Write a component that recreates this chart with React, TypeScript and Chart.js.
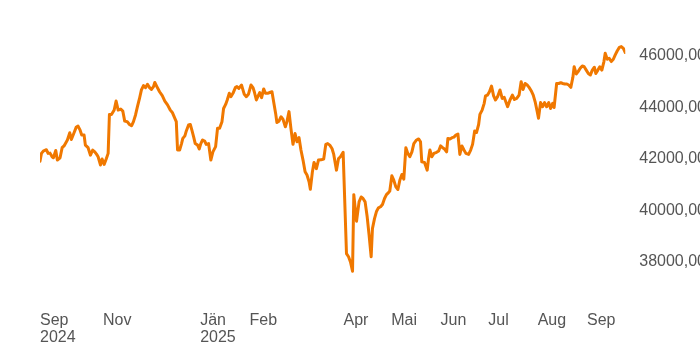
import React, { useEffect, useRef } from "react";
import { Chart, registerables } from "chart.js";

Chart.register(...registerables);

// days since 2024-09-01
const dayOffsets: number[] = [
  21.4, 22.3, 23.7, 25.4, 26.5, 27.7, 29.0, 29.8, 31.3, 32.3, 34.0, 35.3, 36.5, 38.6, 40.1, 41.1, 42.6, 44.1, 45.3, 46.6,
  47.6, 49.1, 49.9, 51.6, 53.1, 54.5, 55.8, 57.0, 57.9, 59.4, 60.4, 61.7, 63.1, 64.2, 65.0, 66.3, 68.0, 69.2, 70.5, 72.1,
  73.4, 74.6, 76.2, 77.6, 78.9, 80.1, 81.4, 82.6, 83.9, 85.1, 86.4, 87.7, 88.9, 90.2, 91.4, 92.7, 93.5, 94.8, 96.5, 98.2,
  99.8, 101.5, 103.2, 104.5, 106.1, 107.0, 107.8, 109.1, 110.3, 111.1, 112.4, 113.3, 114.7, 115.8, 116.8, 117.9, 118.9, 120.4, 121.4, 122.4,
  123.5, 124.8, 125.8, 127.3, 128.7, 130.0, 131.7, 132.9, 134.2, 135.7, 136.7, 138.0, 139.0, 140.3, 141.3, 142.6, 144.1, 145.1, 146.3, 148.0,
  149.7, 151.0, 152.3, 153.9, 155.2, 156.0, 157.3, 158.5, 159.4, 160.6, 161.9, 163.0, 164.4, 165.7, 167.1, 168.2, 169.4, 170.2, 171.5, 172.8,
  174.0, 175.5, 176.5, 177.8, 179.0, 180.3, 181.6, 182.8, 184.1, 185.3, 186.6, 187.9, 189.1, 190.4, 191.2, 192.5, 193.5, 195.0, 196.3, 197.9,
  199.6, 200.9, 202.1, 203.4, 204.8, 205.9, 207.6, 208.9, 210.1, 211.8, 213.9, 215.2, 216.4, 217.7, 218.5, 220.2, 221.8, 223.1, 224.3, 225.6,
  226.9, 228.1, 229.4, 230.2, 231.5, 232.8, 234.0, 235.3, 236.5, 237.8, 239.0, 240.3, 241.1, 242.4, 243.6, 244.9, 246.2, 247.4, 248.7, 249.9,
  251.2, 252.4, 253.7, 255.0, 256.2, 257.9, 259.2, 260.4, 261.2, 262.9, 264.6, 265.4, 266.3, 267.5, 268.8, 270.5, 271.8, 273.0, 274.3, 275.5,
  276.8, 277.6, 278.9, 280.2, 281.4, 282.6, 283.9, 285.1, 286.4, 287.7, 288.9, 290.6, 291.9, 293.1, 294.4, 295.6, 296.9, 297.7, 299.1, 300.4,
  301.2, 302.5, 303.7, 305.0, 306.3, 307.5, 308.8, 310.3, 311.7, 313.0, 315.1, 316.6, 318.1, 319.4, 320.8, 322.3, 323.6, 324.8, 326.1, 327.4,
  328.6, 329.9, 331.2, 332.4, 333.7, 334.5, 335.8, 337.1, 338.3, 339.6, 340.9, 342.1, 343.4, 344.3, 345.9, 347.2, 348.5, 349.7, 351.0, 352.3,
  353.5, 354.8, 356.1, 356.9, 358.2, 359.4, 360.7, 362.0, 363.2, 364.5, 365.8, 367.1, 368.3, 369.6, 370.5, 371.8, 373.0, 374.3, 375.6, 376.4,
  377.7, 378.9, 380.2, 381.5, 382.7, 384.0, 385.3, 386.5, 387.8, 389.0,
];

const closeValues: number[] = [
  41910, 42210, 42310, 42350, 42210, 42220, 42080, 42040, 42320, 41950, 42040, 42430, 42500, 42730, 43010, 42750, 42980, 43220, 43270, 43110,
  42920, 42920, 42530, 42430, 42140, 42340, 42270, 42170, 42080, 41760, 41990, 41780, 42010, 42210, 43720, 43720, 43890, 44240, 43890, 43930,
  43850, 43460, 43440, 43330, 43280, 43440, 43700, 44020, 44340, 44670, 44840, 44760, 44890, 44760, 44690, 44800, 44960, 44800, 44600, 44450,
  44240, 44090, 43890, 43800, 43570, 43440, 42340, 42340, 42590, 42790, 42890, 43080, 43310, 43330, 43110, 42850, 42590, 42530, 42380, 42590,
  42730, 42690, 42560, 42590, 41950, 42270, 42470, 43180, 43180, 43440, 43950, 44110, 44280, 44540, 44410, 44540, 44760, 44800, 44730, 44860,
  44500, 44410, 44500, 44860, 44760, 44600, 44280, 44450, 44570, 44370, 44710, 44540, 44540, 44570, 44600, 44190, 43760, 43410, 43460, 43630,
  43540, 43240, 43440, 43830, 43180, 42560, 42980, 42660, 42820, 42340, 41950, 41500, 41370, 41110, 40820, 41500, 41860, 41620, 41950, 41960,
  41990, 42560, 42590, 42530, 42400, 42170, 41560, 42010, 42080, 42250, 38320, 38200, 38000, 37640, 40610, 39580, 40330, 40520, 40460, 40330,
  39750, 39040, 38200, 39290, 39680, 39970, 40100, 40140, 40230, 40460, 40610, 40690, 40750, 41340, 41170, 40910, 40810, 41170, 41390, 41210,
  42430, 42210, 42080, 42270, 42590, 42730, 42770, 42660, 41880, 41860, 41560, 41990, 42340, 42080, 42210, 42250, 42300, 42500, 42430, 42380,
  42270, 42790, 42770, 42820, 42840, 42920, 42960, 42170, 42500, 42340, 42210, 42170, 42340, 42560, 43080, 43020, 43330, 43720, 43890, 44150,
  44440, 44470, 44600, 44820, 44440, 44280, 44410, 44670, 44340, 44380, 44020, 44280, 44470, 44300, 44340, 44470, 44990, 44690, 44920, 44860,
  44770, 44640, 44470, 44210, 43830, 43570, 44180, 44020, 44180, 44020, 44180, 43950, 44150, 43990, 44920, 44920, 44950, 44920, 44900, 44900,
  44860, 44770, 45160, 45570, 45290, 45380, 45510, 45600, 45570, 45440, 45310, 45250, 45440, 45550, 45310, 45440, 45570, 45440, 45770, 46090,
  45860, 45900, 45770, 45860, 46030, 46190, 46320, 46350, 46280, 46120,
];

// x tick positions (days since 2024-09-01) and their labels
const tickDays: number[] = [dayOffsets[0], 61, 122, 153, 212, 242, 273, 303, 334, 365];
const tickLabels: (string | string[])[] = [
  ["Sep", "2024"], "Nov", ["Jän", "2025"], "Feb", "Apr", "Mai", "Jun", "Jul", "Aug", "Sep",
];
const yTickValues: number[] = [38000, 40000, 42000, 44000, 46000];
const yMin = 36175;
const yMax = 47243;

const FONT = "'Liberation Sans', Arial, Helvetica, sans-serif";
const TEXT_COLOR = "#555555";
const LINE_COLOR = "#F07800";

export default function App() {
  const canvasRef = useRef<HTMLCanvasElement | null>(null);

  useEffect(() => {
    document.body.style.margin = "0";
    document.documentElement.style.overflow = "hidden";
    document.body.style.overflow = "hidden";
    const canvas = canvasRef.current;
    if (!canvas) return;
    const points = dayOffsets.map((d, i) => ({ x: d, y: closeValues[i] }));
    const chart = new Chart(canvas, {
      type: "line",
      data: {
        datasets: [
          {
            data: points,
            borderColor: LINE_COLOR,
            backgroundColor: LINE_COLOR,
            borderWidth: 3,
            borderJoinStyle: "round",
            borderCapStyle: "round",
            pointRadius: 0,
            tension: 0,
            fill: false,
          },
        ],
      },
      options: {
        animation: false,
        responsive: true,
        maintainAspectRatio: false,
        layout: { padding: { top: 10, bottom: 1, left: 40, right: 0 } },
        plugins: { legend: { display: false }, tooltip: { enabled: false } },
        scales: {
          x: {
            type: "linear",
            min: dayOffsets[0],
            max: dayOffsets[dayOffsets.length - 1],
            grid: { display: false, drawTicks: false },
            border: { display: false },
            afterBuildTicks: (axis: any) => {
              axis.ticks = tickDays.map((v) => ({ value: v }));
            },
            ticks: {
              autoSkip: false,
              maxRotation: 0,
              minRotation: 0,
              align: "start",
              padding: 3,
              color: TEXT_COLOR,
              font: { family: FONT, size: 16, lineHeight: 17 / 16 },
              callback: (_v: any, i: number) => tickLabels[i],
            },
          },
          y: {
            type: "linear",
            position: "right",
            min: yMin,
            max: yMax,
            grid: { display: false, drawTicks: false },
            border: { display: false },
            afterBuildTicks: (axis: any) => {
              axis.ticks = yTickValues.map((v) => ({ value: v }));
            },
            ticks: {
              padding: 14,
              color: TEXT_COLOR,
              font: { family: FONT, size: 16 },
              callback: (v: any) => Number(v).toFixed(2).replace(".", ","),
            },
          },
        },
      },
    } as any);
    return () => chart.destroy();
  }, []);

  return (
    <div style={{ position: "absolute", left: 0, top: 0, width: 720, height: 350 }}>
      <canvas ref={canvasRef} />
    </div>
  );
}
